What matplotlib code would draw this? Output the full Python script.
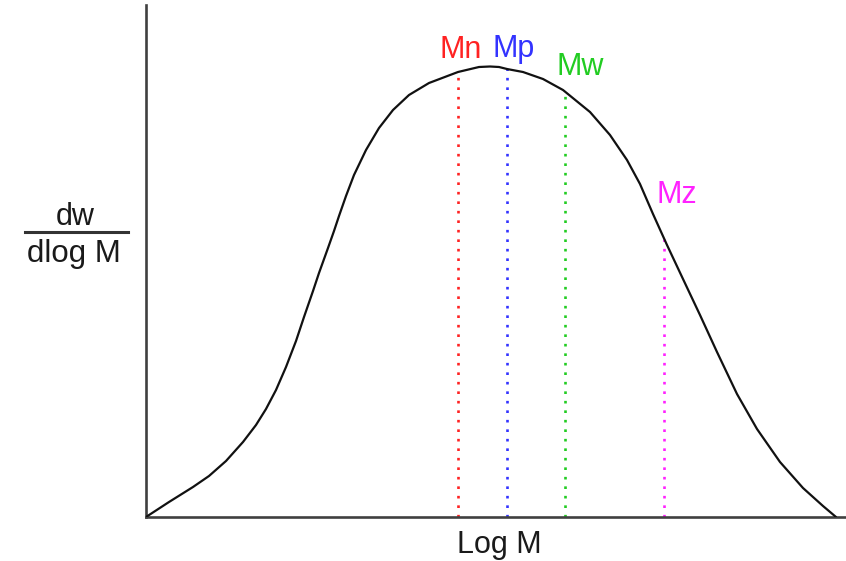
import matplotlib
matplotlib.use("Agg")
import matplotlib.pyplot as plt
from matplotlib.lines import Line2D

plt.rcParams['font.family'] = ['Liberation Sans', 'DejaVu Sans']

# Distribution curve (x: log M, arbitrary units; y: dw/dlogM, arbitrary units)
curve_x = [0, 23, 47, 63, 80, 97, 110, 120, 130, 140, 150, 158, 167, 173, 182,
           188, 193, 200, 208, 220, 233, 247, 263, 283, 312, 333, 344, 353, 361,
           377, 397, 417, 444, 464, 481, 494, 507, 521, 537, 554, 571, 591, 611,
           634, 657, 677, 690]
curve_y = [0, 15, 30, 41, 56, 75, 92, 108, 127, 150, 176, 200, 226, 244, 269,
           286, 301, 321, 342, 367, 389, 407, 422, 434, 445, 450, 450.5, 450, 448,
           445, 438, 427, 405, 382, 357, 333, 303, 272, 238, 202, 165, 123, 88,
           55, 29, 11, 0]

# Molecular weight averages
avg_names = ["Mn", "Mp", "Mw", "Mz"]
avg_x = [312, 361, 419, 518]
avg_height = [445, 448, 426, 278]
avg_colors = ["#ff2222", "#3333ff", "#22cc22", "#ff22ff"]
label_x = [315, 368, 434, 531]
label_y = [459, 460, 442, 314]

W, H = 846, 561
fig = plt.figure(figsize=(W / 100, H / 100), dpi=100)
ax = fig.add_axes([146 / W, 44 / H, 700 / W, 512 / H])
ax.set_xlim(0, 700)
ax.set_ylim(0, 512)

ax.plot(curve_x, curve_y, color="#111111", lw=1.6, solid_joinstyle="round",
        solid_capstyle="round", zorder=3)

for x, h, c, name, lx, ly in zip(avg_x, avg_height, avg_colors, avg_names, label_x, label_y):
    ax.plot([x, x], [0, h], color=c, lw=1.9, linestyle=(0, (1, 2.6)), zorder=2)
    ax.text(lx, ly, name, color=c, fontsize=22, ha="center", va="baseline")

for s in ["top", "right"]:
    ax.spines[s].set_visible(False)
for s in ["left", "bottom"]:
    ax.spines[s].set_color("#404040")
    ax.spines[s].set_linewidth(1.9)
ax.set_xticks([])
ax.set_yticks([])

# x label
fig.text(499 / W, (H - 553) / H, "Log M", fontsize=22, ha="center", va="baseline", color="#1a1a1a")

# y label as a fraction
fig.text(75 / W, (H - 225) / H, "dw", fontsize=22, ha="center", va="baseline", color="#1a1a1a")
fig.text(74 / W, (H - 262) / H, "dlog M", fontsize=22.5, ha="center", va="baseline", color="#1a1a1a")
fig.add_artist(Line2D([25 / W, 128 / W], [(H - 232) / H, (H - 232) / H],
                      transform=fig.transFigure, color="#333333", lw=2.2))

fig.savefig("out.png", dpi=100)
